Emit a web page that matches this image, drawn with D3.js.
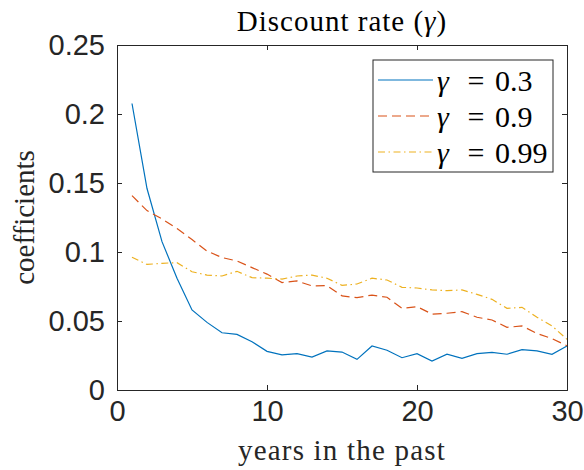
<!DOCTYPE html>
<html>
<head>
<meta charset="utf-8">
<script src="https://cdn.jsdelivr.net/npm/d3@7"></script>
<style>
  html, body { margin: 0; padding: 0; background: #fff; }
  svg { display: block; }
</style>
</head>
<body>
<div id="chart"></div>
<script>
// years in the past (1..30)
const years = d3.range(1, 31);

const gamma03 = [0.2076, 0.146, 0.1075, 0.081, 0.058, 0.049, 0.0415, 0.0403, 0.035, 0.028,
  0.0254, 0.0263, 0.0239, 0.0283, 0.0275, 0.0222, 0.0319, 0.0288, 0.0234, 0.0263,
  0.021, 0.0259, 0.023, 0.0263, 0.0273, 0.0259, 0.0292, 0.0283, 0.0259, 0.0319];

const gamma09 = [0.1408, 0.130, 0.124, 0.117, 0.109, 0.1007, 0.096, 0.0935, 0.0887, 0.084,
  0.0778, 0.079, 0.0754, 0.0756, 0.0682, 0.0669, 0.0688, 0.0672, 0.0592, 0.0604,
  0.055, 0.0556, 0.0568, 0.0527, 0.0507, 0.0454, 0.0464, 0.041, 0.0372, 0.0321];

const gamma099 = [0.0962, 0.091, 0.0918, 0.0923, 0.0857, 0.0833, 0.0826, 0.086, 0.0814, 0.081,
  0.0804, 0.0826, 0.0833, 0.081, 0.0758, 0.0768, 0.081, 0.0797, 0.0744, 0.0739,
  0.0725, 0.072, 0.0725, 0.0693, 0.0657, 0.0592, 0.0599, 0.0527, 0.0464, 0.0367];

const seriesNames = ["0.3", "0.9", "0.99"];
const xTicks = [0, 10, 20, 30];
const yTicks = [0, 0.05, 0.1, 0.15, 0.2, 0.25];
const yTickLabels = ["0", "0.05", "0.1", "0.15", "0.2", "0.25"];

const series = [
  { name: seriesNames[0], values: gamma03, color: "#0072BD", dash: null },
  { name: seriesNames[1], values: gamma09, color: "#D95319", dash: "9,5" },
  { name: seriesNames[2], values: gamma099, color: "#EDB120", dash: "7,3.5,1.5,3.5" }
];

const W = 584, H = 470;
const margin = { top: 45, right: 17, bottom: 80, left: 117 };
const w = W - margin.left - margin.right;
const h = H - margin.top - margin.bottom;

const svg = d3.select("#chart").append("svg")
  .attr("width", W).attr("height", H);

const g = svg.append("g").attr("transform", `translate(${margin.left},${margin.top})`);

const x = d3.scaleLinear().domain([0, 30]).range([0, w]);
const y = d3.scaleLinear().domain([0, 0.25]).range([h, 0]);

const axisColor = "#262626";
const tickFont = "'Liberation Sans', Arial, sans-serif";
const texFont = "'Liberation Serif', 'Times New Roman', serif";

// lines
const line = d3.line().x((d, i) => x(years[i])).y(d => y(d));
series.forEach(s => {
  g.append("path")
    .attr("d", line(s.values))
    .attr("fill", "none")
    .attr("stroke", s.color)
    .attr("stroke-width", 1.2)
    .attr("stroke-dasharray", s.dash);
});

// axes, MATLAB style: ticks inside, box on
const tickLen = 5;
g.append("g").attr("transform", `translate(0,${h})`)
  .call(d3.axisBottom(x).tickValues(xTicks).tickSize(-tickLen).tickPadding(10).tickFormat(d3.format("d")))
  .call(a => a.select(".domain").attr("stroke", axisColor))
  .call(a => a.selectAll(".tick line").attr("stroke", axisColor))
  .call(a => a.selectAll(".tick text").attr("fill", axisColor)
    .attr("font-family", tickFont).attr("font-size", 29));

g.append("g")
  .call(d3.axisLeft(y).tickValues(yTicks).tickSize(-tickLen).tickPadding(12)
    .tickFormat((d, i) => yTickLabels[i]))
  .call(a => a.select(".domain").attr("stroke", axisColor))
  .call(a => a.selectAll(".tick line").attr("stroke", axisColor))
  .call(a => a.selectAll(".tick text").attr("fill", axisColor)
    .attr("font-family", tickFont).attr("font-size", 29));

g.append("g")
  .call(d3.axisTop(x).tickValues(xTicks).tickSize(-tickLen).tickFormat(""))
  .call(a => a.selectAll("path, line").attr("stroke", axisColor));

g.append("g").attr("transform", `translate(${w},0)`)
  .call(d3.axisRight(y).tickValues(yTicks).tickSize(-tickLen).tickFormat(""))
  .call(a => a.selectAll("path, line").attr("stroke", axisColor));

// title and labels
const title = svg.append("text")
  .attr("x", margin.left + w / 2).attr("y", 31)
  .attr("text-anchor", "middle")
  .attr("font-family", texFont).attr("font-size", 29).attr("fill", "#000")
  .attr("letter-spacing", 1);
title.append("tspan").text("Discount rate (");
title.append("tspan").attr("font-style", "italic").text("γ");
title.append("tspan").text(")");

svg.append("text")
  .attr("x", margin.left + w / 2).attr("y", 460)
  .attr("text-anchor", "middle")
  .attr("font-family", texFont).attr("font-size", 29).attr("fill", "#262626")
  .attr("letter-spacing", 1.2)
  .text("years in the past");

svg.append("text")
  .attr("transform", `translate(34,${margin.top + h / 2}) rotate(-90)`)
  .attr("text-anchor", "middle")
  .attr("font-family", texFont).attr("font-size", 29).attr("fill", "#262626")
  .text("coefficients");

// legend
const legend = svg.append("g").attr("transform", "translate(373,60)");
legend.append("rect")
  .attr("width", 180).attr("height", 112)
  .attr("fill", "#fff").attr("stroke", axisColor).attr("stroke-width", 1);

series.forEach((s, i) => {
  const ly = 20 + i * 36;
  legend.append("line")
    .attr("x1", 5).attr("x2", 60).attr("y1", ly).attr("y2", ly)
    .attr("stroke", s.color).attr("stroke-width", 1.2)
    .attr("stroke-dasharray", s.dash);
  legend.append("text").attr("x", 64).attr("y", ly).attr("dy", "0.35em")
    .attr("font-family", texFont).attr("font-size", 30).attr("fill", "#000")
    .attr("font-style", "italic").text("γ");
  legend.append("text").attr("x", 103).attr("y", ly).attr("dy", "0.35em")
    .attr("font-family", texFont).attr("font-size", 30).attr("fill", "#000")
    .attr("text-anchor", "middle").text("=");
  legend.append("text").attr("x", 122).attr("y", ly).attr("dy", "0.35em")
    .attr("font-family", texFont).attr("font-size", 30).attr("fill", "#000")
    .text(s.name);
});
</script>
</body>
</html>
